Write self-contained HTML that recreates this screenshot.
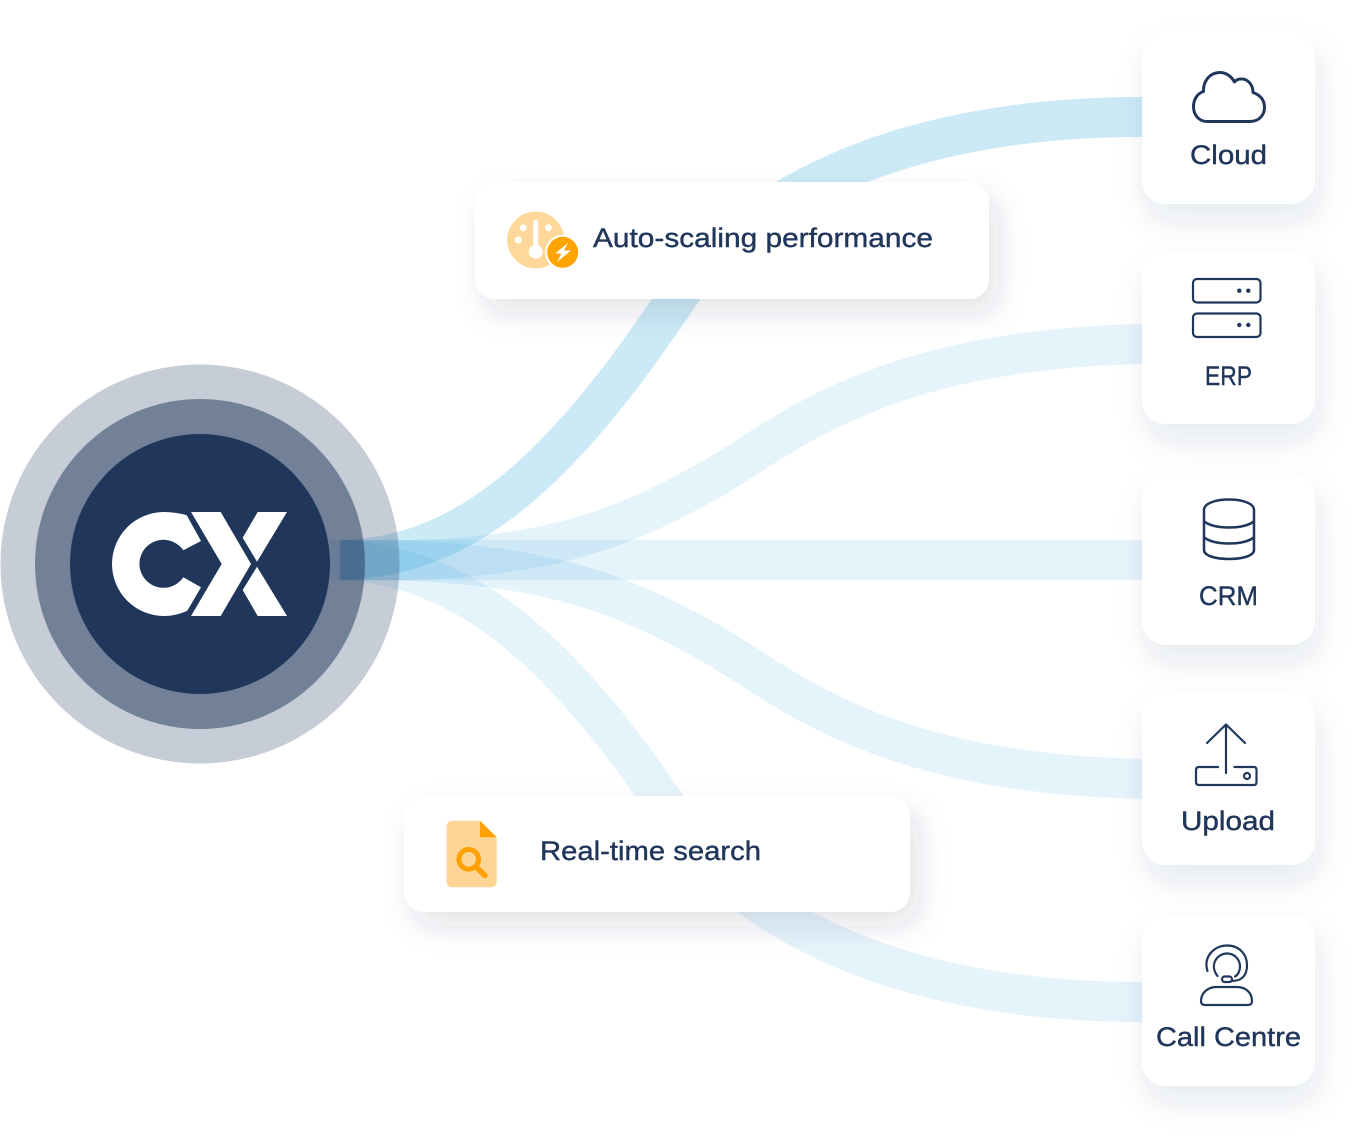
<!DOCTYPE html>
<html><head><meta charset="utf-8"><style>
html,body{margin:0;padding:0;background:#fff;width:1371px;height:1142px;overflow:hidden}
svg{display:block}
text{font-family:"Liberation Sans",sans-serif;font-size:27px;fill:#20365a;stroke:#20365a;stroke-width:.4}
</style></head><body>
<svg width="1371" height="1142" viewBox="0 0 1371 1142" xmlns="http://www.w3.org/2000/svg">
<defs>
<filter id="s" x="-30%" y="-30%" width="160%" height="170%"><feDropShadow dx="9" dy="14" stdDeviation="14" flood-color="#20365a" flood-opacity=".13"/></filter>
<filter id="r" x="-40%" y="-40%" width="180%" height="190%"><feDropShadow dx="4" dy="16" stdDeviation="15" flood-color="#20365a" flood-opacity=".1"/></filter>
</defs>
<g fill="none" stroke-width="40">
<path d="M340 560C460 558 556 479 676 299C726 224 860 117 1142 117" stroke="#52b9e1" stroke-opacity=".3"/>
<path d="M340 560C540 565 620 530 710 480C780 441 870 350 1142 344" stroke="#52afe4" stroke-opacity=".15"/>
<path d="M329 560H1142" stroke="#52afe4" stroke-opacity=".15"/>
<path d="M340 560C540 558 620 592.800 710 642.800C780 681.800 870 773 1142 779" stroke="#52afe4" stroke-opacity=".15"/>
<path d="M340 560C460 566 556 640.400 676 820.400C726 895.400 860 1002 1142 1002" stroke="#52afe4" stroke-opacity=".15"/>
</g>
<circle cx="200" cy="564" r="199.500" fill="#20365a" fill-opacity=".25"/>
<circle cx="200" cy="564" r="165" fill="#20365a" fill-opacity=".5"/>
<circle cx="200" cy="564" r="130" fill="#20365a"/>
<path d="M186.700 515.300L201 541L183.300 550.300A24 24 0 1 0 183.300 577.300L201 587.300L187.300 610.700Q176 616 164 616A52 52 0 0 1 164 512Q176 512 186.700 515.300Z" fill="#fff"/>
<path d="M191 512H220.700L251 564L220.700 616H191L221.700 564Z" fill="#fff"/>
<path d="M257.700 512H287L257 561.700L242.700 537.700Z" fill="#fff"/>
<path d="M257 566.700L287 616H257.700L242.700 590Z" fill="#fff"/>
<g fill="#fff" filter="url(#r)">
<rect x="1142" y="32" width="173" height="172" rx="24"/>
<rect x="1142" y="252" width="173" height="172" rx="24"/>
<rect x="1142" y="473" width="173" height="172" rx="24"/>
<rect x="1142" y="693" width="173" height="172" rx="24"/>
<rect x="1142" y="914" width="173" height="172" rx="24"/>
</g>
<g fill="#fff" filter="url(#s)">
<rect x="475" y="182" width="514" height="117" rx="20"/>
<rect x="404" y="796" width="506" height="116" rx="20"/>
</g>
<g fill="none" stroke="#20365a" stroke-width="2.200" stroke-linecap="round" stroke-linejoin="round">
<path stroke-width="3" d="M1207 121.500H1250C1260 121.500 1264.500 114 1264.500 107.500C1264.500 100 1260 95 1253 92.500C1253 84 1247 78.500 1241 79C1238 79 1236 80 1234.500 82C1231 75.500 1225 72.500 1220 72.500C1210 72.500 1203 81 1203.500 91.500C1197 93.500 1193.500 100 1193.500 106.500C1193.500 115 1199 121.500 1207 121.500Z"/>
<rect x="1193" y="279" width="67.500" height="23.500" rx="4"/>
<rect x="1193" y="313.500" width="67.500" height="23.500" rx="4"/>
<path stroke-width="2.500" d="M1204 510C1204 496 1254 496 1254 510V550C1254 562 1204 562 1204 550ZM1204 521C1212 529.700 1246 529.700 1254 521M1204 537C1212 545.700 1246 545.700 1254 537"/>
<path d="M1207 743L1226 724.500L1245 743M1226 724.500V773M1218 767H1199Q1196 767 1196 770V782Q1196 785 1199 785H1254Q1256.500 785 1256.500 782V770Q1256.500 767 1254 767H1234.500"/>
<circle cx="1247" cy="776" r="3"/>
<path d="M1207.500 971C1203 957 1214 945.500 1227 945.500C1240 945.500 1247 955 1247 965C1247 973 1244 981 1232 981"/>
<path d="M1217.500 976C1209 965 1217 953.500 1227 953.500C1235 953.500 1240 960 1240 966.500C1240 971 1238 975 1235 976.500"/>
<rect x="1222" y="976.500" width="10" height="5.500" rx="2.700"/>
<path d="M1201 1001C1201 992 1209 987 1216 987H1237C1245 987 1252 992 1252 1001Q1252 1005 1248 1005H1205Q1201 1005 1201 1001Z"/>
</g>
<g fill="#20365a">
<circle cx="1239.300" cy="290.700" r="2.200"/><circle cx="1248.300" cy="290.700" r="2.200"/>
<circle cx="1239.300" cy="325" r="2.200"/><circle cx="1248.300" cy="325" r="2.200"/>
</g>
<circle cx="535.700" cy="240" r="28.500" fill="#fed89b"/>
<rect x="533.200" y="220" width="5" height="30" rx="2.500" fill="#fff"/>
<circle cx="535.700" cy="251.700" r="7" fill="#fff"/>
<circle cx="523.300" cy="227.700" r="3.500" fill="#fff"/><circle cx="548.300" cy="227.700" r="3.500" fill="#fff"/><circle cx="518.300" cy="240" r="3.500" fill="#fff"/>
<circle cx="562.700" cy="252.300" r="17.500" fill="#fff"/>
<circle cx="562.700" cy="252.300" r="15.500" fill="#ffa400"/>
<path d="M568 243L555 253.500H561.500L557 262L571 250.500H564Z" fill="#fff"/>
<path d="M453 820.700H480V837.300H496.700V881Q496.700 887.300 490 887.300H453Q446.700 887.300 446.700 881V827Q446.700 820.700 453 820.700Z" fill="#fed595"/>
<path d="M480 820.700L496.700 837.300H480Z" fill="#ffa000"/>
<circle cx="468.700" cy="859.300" r="9.800" fill="none" stroke="#ffa000" stroke-width="5"/>
<path d="M476.500 867.500L485 875.500" stroke="#ffa000" stroke-width="5.500" stroke-linecap="round"/>
<text x="1190" y="164" textLength="77" lengthAdjust="spacingAndGlyphs">Cloud</text>
<text x="1205" y="385" textLength="47" lengthAdjust="spacingAndGlyphs">ERP</text>
<text x="1199" y="605" textLength="59" lengthAdjust="spacingAndGlyphs">CRM</text>
<text x="1181" y="830" textLength="94" lengthAdjust="spacingAndGlyphs">Upload</text>
<text x="1156" y="1046" textLength="145" lengthAdjust="spacingAndGlyphs">Call Centre</text>
<text x="593" y="247" textLength="340" lengthAdjust="spacingAndGlyphs">Auto-scaling performance</text>
<text x="540" y="860" textLength="221" lengthAdjust="spacingAndGlyphs">Real-time search</text>
</svg>
</body></html>
